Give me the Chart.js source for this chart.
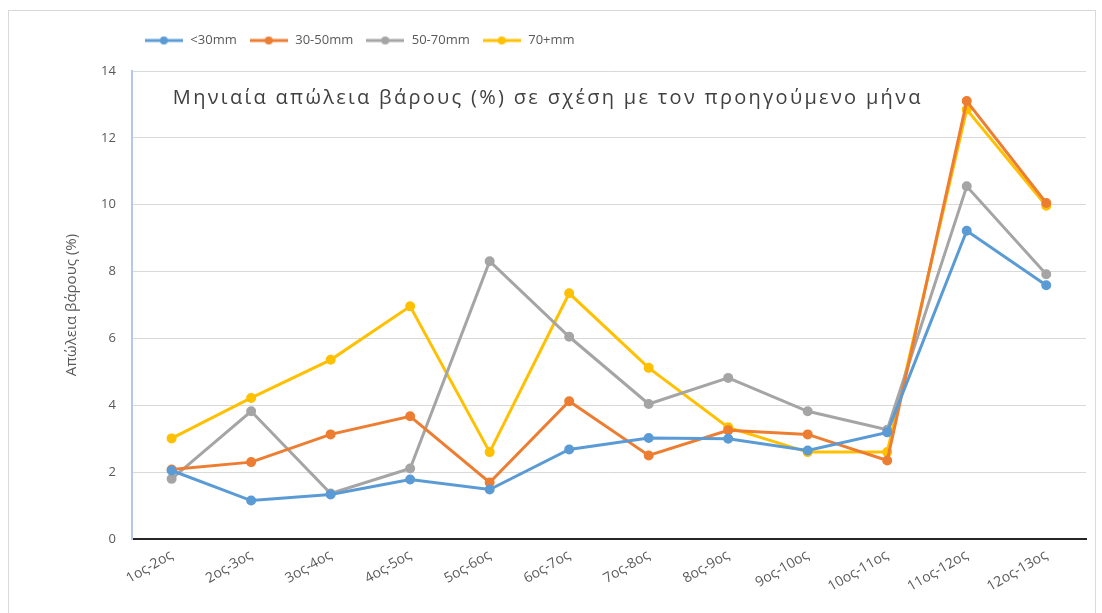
<!DOCTYPE html>
<html>
<head>
<meta charset="utf-8">
<script src="https://cdn.jsdelivr.net/npm/chart.js@4"></script>
<style>
  html, body { margin: 0; padding: 0; background: #fff; }
  #wrap { width: 1102px; height: 613px; }
</style>
</head>
<body>
<div id="wrap"><canvas id="weightChart" width="1102" height="613"></canvas></div>
<script>
const categories = ['1ος-2ος', '2ος-3ος', '3ος-4ος', '4ος-5ος', '5ος-6ος', '6ος-7ος',
    '7ος-8ος', '8ος-9ος', '9ος-10ος', '10ος-11ος', '11ος-12ος', '12ος-13ος'];
const under30 = [2.05, 1.15, 1.33, 1.78, 1.48, 2.68, 3.02, 3.0, 2.65, 3.19, 9.22, 7.59];
const from30to50 = [2.08, 2.3, 3.13, 3.67, 1.69, 4.12, 2.5, 3.25, 3.13, 2.35, 13.1, 10.05];
const from50to70 = [1.8, 3.82, 1.36, 2.11, 8.31, 6.05, 4.04, 4.82, 3.82, 3.27, 10.55, 7.92];
const over70 = [3.01, 4.22, 5.36, 6.96, 2.6, 7.35, 5.12, 3.34, 2.6, 2.6, 12.85, 9.97];
const seriesNames = ['<30mm', '30-50mm', '50-70mm', '70+mm'];
const seriesColors = ['#5B9BD5', '#ED7D31', '#A5A5A5', '#FFC000'];
const chartTitle = 'Μηνιαία απώλεια βάρους (%) σε σχέση με τον προηγούμενο μήνα';
const yTitle = 'Απώλεια βάρους (%)';

// small legend marker: line with a dot in the middle
function legendMarker(color) {
    const c = document.createElement('canvas');
    c.width = 38; c.height = 10;
    const g = c.getContext('2d');
    g.strokeStyle = color; g.lineWidth = 3;
    g.beginPath(); g.moveTo(0, 5); g.lineTo(38, 5); g.stroke();
    g.fillStyle = color;
    g.beginPath(); g.arc(19, 5, 4, 0, Math.PI * 2); g.fill();
    return c;
}

const innerTitle = {
    id: 'innerTitle',
    afterInit(chart) {
        // leave a bit more room between the legend and the plot
        const legend = chart.legend;
        const fit = legend.fit;
        legend.fit = function () {
            fit.call(this);
            this.height += 14;
        };
    },
    beforeDraw(chart) {
        const ctx = chart.ctx;
        ctx.save();
        ctx.strokeStyle = '#D9D9D9';
        ctx.lineWidth = 1;
        ctx.strokeRect(8.5, 10.5, 1087, 620);
        ctx.restore();
    },
    afterDraw(chart) {
        const ctx = chart.ctx;
        ctx.save();
        ctx.fillStyle = '#404040';
        ctx.font = '20px "Open Sans", sans-serif';
        ctx.letterSpacing = '2.3px';
        ctx.textBaseline = 'middle';
        ctx.fillText(chartTitle, chart.chartArea.left + 41, chart.chartArea.top + 27);
        ctx.restore();
    }
};

const allSeries = [under30, from30to50, from50to70, over70];

new Chart(document.getElementById('weightChart').getContext('2d'), {
    type: 'line',
    data: {
        labels: categories,
        datasets: allSeries.map((vals, i) => ({
            label: seriesNames[i],
            data: vals,
            borderColor: seriesColors[i],
            backgroundColor: seriesColors[i],
            borderWidth: 3,
            pointRadius: 3.5,
            pointHoverRadius: 3.5,
            tension: 0
        }))
    },
    options: {
        responsive: false,
        animation: false,
        layout: { padding: { left: 59, right: 16, top: 22, bottom: 10 } },
        plugins: {
            legend: {
                position: 'top',
                align: 'start',
                fullSize: false,
                labels: {
                    color: '#595959',
                    font: { size: 13, family: '"Open Sans", sans-serif' },
                    usePointStyle: true,
                    pointStyleWidth: 40,
                    boxHeight: 10,
                    padding: 12,
                    generateLabels(chart) {
                        return chart.data.datasets.map((ds, i) => ({
                            text: ds.label,
                            pointStyle: legendMarker(ds.borderColor),
                            fontColor: '#595959',
                            strokeStyle: ds.borderColor,
                            fillStyle: ds.borderColor,
                            lineWidth: 0,
                            datasetIndex: i,
                            hidden: false
                        }));
                    }
                }
            },
            tooltip: { enabled: false }
        },
        scales: {
            x: {
                offset: true,
                grid: { display: false, drawTicks: false },
                border: { color: '#262626', width: 2 },
                ticks: {
                    color: '#595959',
                    font: { size: 14, family: '"Open Sans", sans-serif' },
                    minRotation: 30,
                    maxRotation: 30,
                    padding: 8
                }
            },
            y: {
                min: 0,
                max: 14,
                grid: { color: '#D9D9D9', lineWidth: 1, drawTicks: false },
                border: { color: '#B4C7E7', width: 2 },
                ticks: {
                    stepSize: 2,
                    color: '#595959',
                    font: { size: 13, family: '"Open Sans", sans-serif' },
                    padding: 16
                },
                title: {
                    display: true,
                    text: yTitle,
                    color: '#595959',
                    font: { size: 15, family: '"Open Sans", sans-serif' }
                }
            }
        }
    },
    plugins: [innerTitle]
});
</script>
</body>
</html>
